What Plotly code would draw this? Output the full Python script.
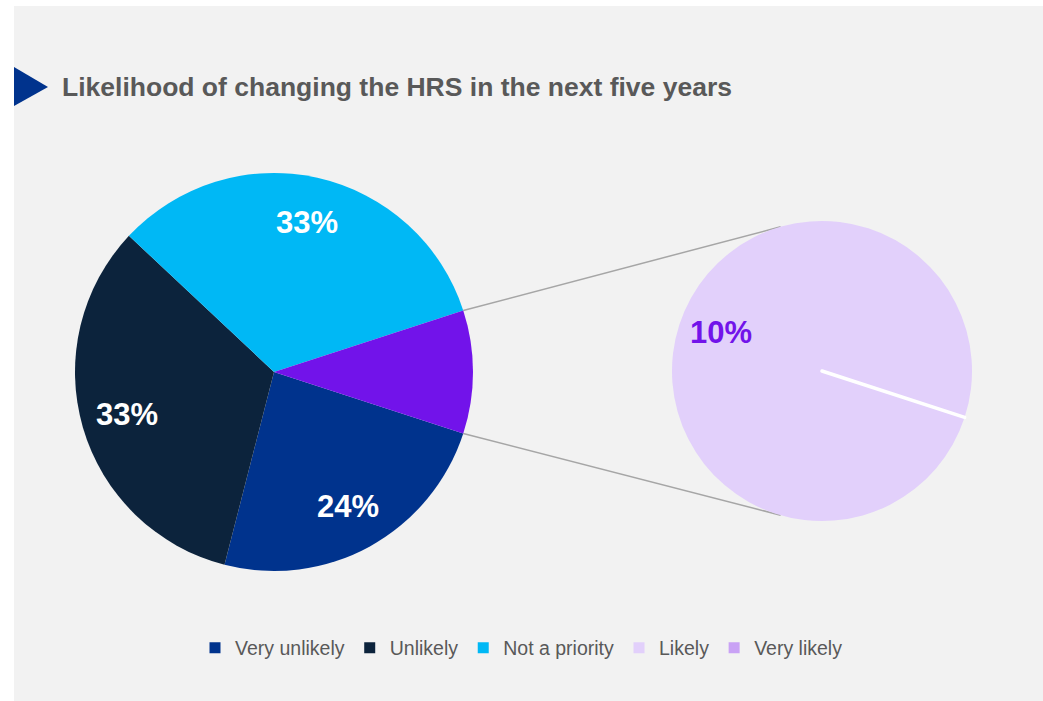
import math
import plotly.graph_objects as go

# ---- data -------------------------------------------------------------
main_labels = ["Very unlikely", "Unlikely", "Not a priority"]
main_values = [24, 33, 33]
detail_labels = ["Likely", "Very likely"]
detail_values = [10, 0]
legend_labels = main_labels + detail_labels
title_text = "Likelihood of changing the HRS in the next five years"

# ---- style ------------------------------------------------------------
W, H = 1043, 701
FONT = "Liberation Sans, Arial, sans-serif"
main_colors = ["#00338D", "#0C233C", "#00B8F5"]
other_color = "#7213EA"
detail_colors = ["#E2D0FB", "#C9A2F5"]
text_grey = "#595959"
panel_grey = "#F2F2F2"

main_c, main_r = (274, 372), 199
sec_c, sec_r = (822, 371), 150
connector_angle = 106  # where the leader lines meet the secondary pie


def domain(c, r):
    return dict(x=[(c[0] - r) / W, (c[0] + r) / W],
                y=[1 - (c[1] + r) / H, 1 - (c[1] - r) / H])


def to_paper(c, r, ang_deg, frac=1.0):
    a = math.radians(ang_deg)
    px = c[0] + frac * r * math.cos(a)
    py = c[1] - frac * r * math.sin(a)
    return px / W, 1 - py / H


other_value = sum(detail_values)
values = main_values + [other_value]
total = sum(values)
deg_per_unit = 360.0 / total
# the combined slice is centred on the right-hand side
start_angle = -other_value * deg_per_unit / 2          # math angle
rotation = 90 - start_angle                            # plotly: clockwise from 12 o'clock

fig = go.Figure()

fig.add_trace(go.Pie(
    labels=main_labels + ["Other"],
    values=values,
    sort=False,
    direction="clockwise",
    rotation=rotation,
    domain=domain(main_c, main_r),
    marker=dict(colors=main_colors + [other_color], line=dict(width=0)),
    textinfo="none",
    showlegend=False,
    hoverinfo="label+value",
))

fig.add_trace(go.Pie(
    labels=detail_labels,
    values=detail_values,
    sort=False,
    direction="clockwise",
    rotation=rotation,
    domain=domain(sec_c, sec_r),
    marker=dict(colors=detail_colors,
                line=dict(color="white", width=[0 if v else 3.5 for v in detail_values])),
    textinfo="none",
    showlegend=False,
    hoverinfo="label+value",
))

# legend entries
for lab, col in zip(legend_labels, main_colors + detail_colors):
    fig.add_trace(go.Scatter(
        x=[None], y=[None], mode="markers", name=lab,
        marker=dict(symbol="square", size=11, color=col),
        showlegend=True,
    ))

annotations = []
# percentage labels on the main pie
cum = 0
for v in main_values:
    mid = start_angle - (cum + v / 2) * deg_per_unit
    cum += v
    x, y = to_paper(main_c, main_r, mid, 0.77)
    annotations.append(dict(x=x, y=y, xref="paper", yref="paper", text=f"<b>{v}%</b>",
                            showarrow=False, font=dict(family=FONT, size=31, color="white"),
                            xanchor="center", yanchor="middle"))

# percentage labels on the secondary pie
sec_total = sum(detail_values)
cum = 0
for v in detail_values:
    if v:
        mid = start_angle - (cum + v / 2) * 360.0 / sec_total
        x, y = to_paper(sec_c, sec_r, mid - 3, 0.72)
        annotations.append(dict(x=x, y=y, xref="paper", yref="paper",
                                text=f"<b>{round(100 * v / total)}%</b>",
                                showarrow=False,
                                font=dict(family=FONT, size=31, color=other_color),
                                xanchor="center", yanchor="middle"))
    cum += v

annotations.append(dict(x=60 / W, y=1 - 87 / H, xref="paper", yref="paper",
                        text=f"<b>{title_text}</b>", showarrow=False,
                        font=dict(family=FONT, size=26.5, color=text_grey),
                        xanchor="left", yanchor="middle"))

shapes = [
    dict(type="rect", xref="paper", yref="paper", x0=14 / W, x1=1, y0=0, y1=1 - 6 / H,
         fillcolor=panel_grey, line=dict(width=0), layer="below"),
    dict(type="path", xref="paper", yref="paper",
         path=f"M {14 / W},{1 - 67 / H} L {48 / W},{1 - 87 / H} L {14 / W},{1 - 106 / H} Z",
         fillcolor="#00338D", line=dict(width=0), layer="above"),
]

# leader lines from the combined slice to the secondary pie
half = other_value * deg_per_unit / 2
for sgn in (1, -1):
    x0, y0 = to_paper(main_c, main_r, sgn * half)
    x1, y1 = to_paper(sec_c, sec_r, sgn * connector_angle)
    shapes.append(dict(type="line", xref="paper", yref="paper", x0=x0, y0=y0, x1=x1, y1=y1,
                       line=dict(color="#A6A6A6", width=1.5), layer="below"))

fig.update_layout(
    width=W, height=H,
    margin=dict(l=0, r=0, t=0, b=0),
    paper_bgcolor="white",
    plot_bgcolor="rgba(0,0,0,0)",
    xaxis=dict(visible=False),
    yaxis=dict(visible=False),
    annotations=annotations,
    shapes=shapes,
    legend=dict(orientation="h", x=0.5, xanchor="center", y=1 - 648 / H, yanchor="middle",
                font=dict(family=FONT, size=19.5, color=text_grey),
                bgcolor="rgba(0,0,0,0)", itemwidth=30, itemclick=False, itemdoubleclick=False),
    font=dict(family=FONT),
)

fig.write_html("out.html")
